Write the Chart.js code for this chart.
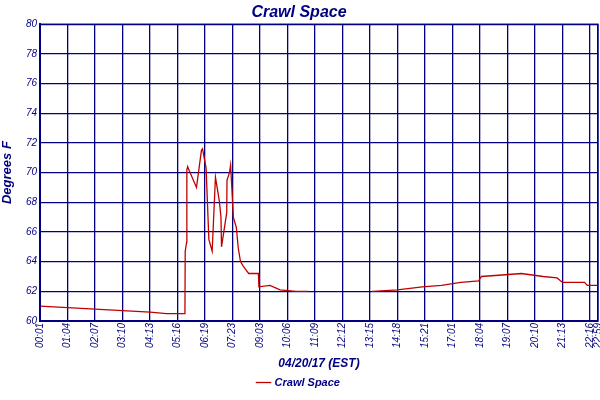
<!DOCTYPE html>
<html><head><meta charset="utf-8">
<script src="https://cdn.jsdelivr.net/npm/chart.js@4"></script>
<style>html,body{margin:0;padding:0;background:#fff}#w{width:600px;height:400px}</style>
</head><body><div id="w"><canvas id="c"></canvas></div>
<script>
const tickLabels = ["00:01","01:04","02:07","03:10","04:13","05:16","06:19","07:23","09:03","10:06","11:09","12:12","13:15","14:18","15:21","17:01","18:04","19:07","20:10","21:13","22:16","22:59"];
const tickPos = [0,1,2,3,4,5,6,7,8,9,10,11,12,13,14,15,16,17,18,19,20,20.29];
// x positions in tick-index units, temperatures in deg F (null = gap)
const xPos = [0,0.5,1,1.5,2,2.5,3,3.5,4,4.6,5.27,5.28,5.33,5.34,5.37,5.41,5.69,5.87,5.91,6.04,6.14,6.26,6.38,6.52,6.58,6.6,6.79,6.8,6.89,6.93,6.98,7.03,7.14,7.21,7.29,7.39,7.51,7.59,7.94,7.96,8.36,8.73,9.3,9.75,9.76,12.07,12.1,13,13.9,14.6,15.3,15.95,16.05,16.8,17.5,18.3,18.8,19.0,19.8,19.9,20.29];
const temps = [61.0,60.95,60.9,60.85,60.8,60.75,60.7,60.65,60.6,60.5,60.5,64.7,65.3,70.2,70.4,70.2,69.0,71.5,71.6,70.3,65.5,64.7,69.7,68.1,67.0,65.0,67.3,69.5,70.0,70.5,68.8,67.0,66.3,64.9,64.0,63.7,63.4,63.2,63.2,62.3,62.4,62.1,62.0,62.0,null,62.0,62.0,62.1,62.3,62.4,62.6,62.7,63.0,63.1,63.2,63.0,62.9,62.6,62.6,62.4,62.4];
const yTicks = [60,62,64,66,68,70,72,74,76,78,80];

const navy = '#000080';
const pts = xPos.map((x,i)=>({x:x,y:temps[i]}));
new Chart(document.getElementById('c'),{
  type:'line',
  data:{datasets:[{label:'Crawl Space',data:pts,borderColor:'#c00000',backgroundColor:'#c00000',borderWidth:1.3,pointRadius:0,tension:0,spanGaps:false}]},
  options:{
    responsive:true,maintainAspectRatio:false,animation:false,
    layout:{padding:{left:0,right:2,top:0,bottom:2}},
    plugins:{
      title:{display:true,text:'Crawl Space',color:navy,font:{family:'Liberation Sans',size:16,weight:'bold',style:'italic'},padding:{top:3,bottom:2}},
      legend:{position:'bottom',labels:{usePointStyle:true,pointStyle:'line',boxWidth:14,color:navy,font:{family:'Liberation Sans',size:11,weight:'bold',style:'italic'},padding:6}},
      tooltip:{enabled:false}
    },
    scales:{
      x:{type:'linear',min:0,max:20.29,
        afterBuildTicks:s=>{s.ticks=tickPos.map(v=>({value:v}));},
        afterFit:s=>{s.height=s.chart.height-s.chart.legend.height-2-321;s.paddingLeft=0;s.paddingRight=0;},
        ticks:{autoSkip:false,maxRotation:90,minRotation:90,color:navy,font:{family:'Liberation Sans',size:10,style:'italic'},padding:2,
          callback:(v,i)=>tickLabels[i]},
        grid:{color:navy,lineWidth:1.3,drawTicks:false},border:{color:navy,width:2},
        title:{display:true,text:'04/20/17 (EST)',color:navy,font:{family:'Liberation Sans',size:12,weight:'bold',style:'italic'},padding:{top:2,bottom:0}}
      },
      y:{min:60,max:80,
        afterBuildTicks:s=>{s.ticks=yTicks.map(v=>({value:v}));},
        afterFit:s=>{s.width=40;s.paddingTop=0;s.paddingBottom=0;},
        ticks:{color:navy,font:{family:'Liberation Sans',size:10,style:'italic'},padding:3},
        grid:{color:navy,lineWidth:1.3,drawTicks:false},border:{color:navy,width:2},
        title:{display:true,text:'Degrees F',color:navy,font:{family:'Liberation Sans',size:13,weight:'bold',style:'italic'},padding:{top:0,bottom:2}}
      }
    }
  },
  plugins:[{id:'frame',afterDraw(c){const a=c.chartArea,x=c.ctx;x.save();x.strokeStyle=navy;x.lineWidth=1.3;x.strokeRect(a.left,a.top,a.right-a.left,a.bottom-a.top);x.restore();}}]
});
</script></body></html>
